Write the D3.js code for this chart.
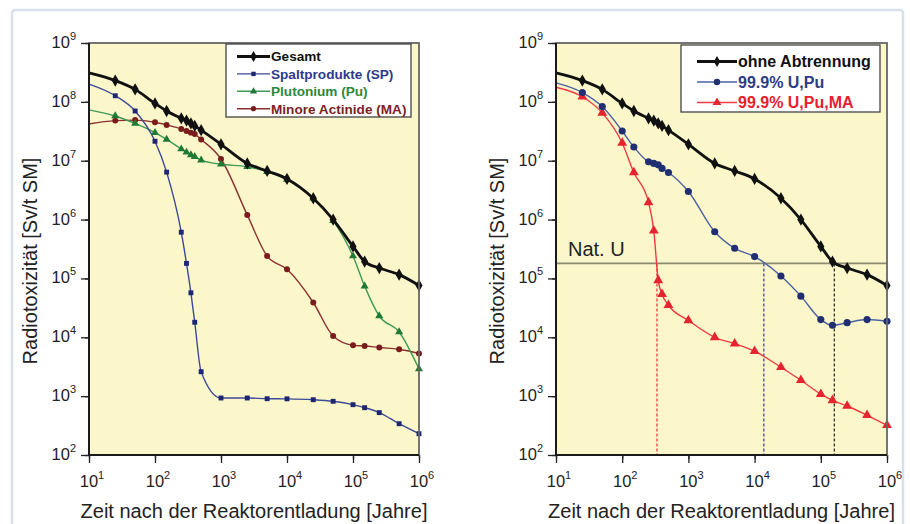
<!DOCTYPE html>
<html lang="de">
<head>
<meta charset="utf-8">
<title>Radiotoxizität</title>
<script src="https://cdn.jsdelivr.net/npm/d3@7"></script>
<style>
  body { margin: 0; background: #fff; }
  svg { display: block; font-family: "Liberation Sans", Arial, sans-serif; }
  .legend text { font-weight: bold; }
</style>
</head>
<body>
<svg id="chart" width="910" height="524"></svg>
<script>
// Zeitpunkte [Jahre]
var years = [10, 25, 50, 100, 150, 250, 300, 350, 400, 500, 1000, 2500, 5000,
             1e4, 2.5e4, 5e4, 1e5, 1.5e5, 2.5e5, 5e5, 1e6];

// linke Grafik
var gesamt = [3.1e8, 2.3e8, 1.63e8, 9.4e7, 7.0e7, 5.25e7, 4.8e7, 4.3e7, 3.9e7, 3.3e7, 1.9e7, 9.0e6, 6.7e6,
              4.9e6, 2.3e6, 1.0e6, 3.5e5, 1.93e5, 1.5e5, 1.16e5, 7.6e4];
var spaltprodukte = [2.0e8, 1.27e8, 7.0e7, 2.14e7, 6.4e6, 6.1e5, 1.8e5, 5.7e4, 1.8e4, 2.6e3, 930, 930, 905,
                     900, 870, 817, 716, 637, 525, 340, 230];
var plutonium = [7.3e7, 5.75e7, 4.3e7, 3.0e7, 2.3e7, 1.58e7, 1.39e7, 1.25e7, 1.17e7, 1.02e7, 8.7e6, 7.9e6, 6.5e6,
                 4.8e6, 2.3e6, 9.6e5, 2.4e5, 7.4e4, 2.3e4, 1.23e4, 2.9e3];
var minoreActinide = [4.2e7, 4.8e7, 4.9e7, 4.5e7, 4.05e7, 3.46e7, 3.2e7, 3.0e7, 2.84e7, 2.3e7, 1.07e7, 1.2e6, 2.4e5,
                      1.43e5, 3.9e4, 1.05e4, 7.3e3, 7.1e3, 6.7e3, 6.25e3, 5.3e3];

// rechte Grafik
var ohneAbtrennung = gesamt;
var abtrennungUPu = [2.1e8, 1.44e8, 8.3e7, 3.2e7, 1.71e7, 9.6e6, 9.0e6, 8.5e6, 7.4e6, 6.3e6, 3.0e6, 6.2e5, 3.25e5,
                     2.35e5, 1.1e5, 5.0e4, 2.0e4, 1.6e4, 1.77e4, 2.0e4, 1.87e4];
var abtrennungUPuMA = [1.77e8, 1.22e8, 6.5e7, 2.0e7, 6.3e6, 1.96e6, 6.5e5, 9.3e4, 5.4e4, 3.5e4, 1.94e4, 1.0e4, 7.8e3,
                       5.8e3, 3.1e3, 1.86e3, 1.08e3, 850, 680, 473, 320];

// Natururan-Referenz und Schnittpunkte
var natU = 1.8e5;
var crossYears = [335, 1.38e4, 1.6e5];
var crossColors = ["#e8303a", "#2f3f80", "#222"];

var xTicks = [1e1, 1e2, 1e3, 1e4, 1e5, 1e6];
var yTicks = [1e2, 1e3, 1e4, 1e5, 1e6, 1e7, 1e8, 1e9];

var leftSeries = [
  {name: "Gesamt", values: gesamt, line: "#111", mark: "#111", text: "#111", width: 2.8, shape: d3.symbolDiamond, size: 44},
  {name: "Spaltprodukte (SP)", values: spaltprodukte, line: "#3b4a98", mark: "#1c2770", text: "#2d3a8c", width: 1.4, shape: d3.symbolSquare, size: 24},
  {name: "Plutonium (Pu)", values: plutonium, line: "#3f9a55", mark: "#1f7a35", text: "#2a8a3e", width: 1.4, shape: d3.symbolTriangle, size: 28},
  {name: "Minore Actinide (MA)", values: minoreActinide, line: "#8a3030", mark: "#7a1c1c", text: "#7c1f24", width: 1.4, shape: d3.symbolCircle, size: 28}
];
var rightSeries = [
  {name: "ohne Abtrennung", values: ohneAbtrennung, line: "#111", mark: "#111", text: "#111", width: 2.8, shape: d3.symbolDiamond, size: 44},
  {name: "99.9% U,Pu", values: abtrennungUPu, line: "#4a62a0", mark: "#1f2f72", text: "#2b3d86", width: 1.4, shape: d3.symbolCircle, size: 40},
  {name: "99.9% U,Pu,MA", values: abtrennungUPuMA, line: "#ee3a44", mark: "#e52430", text: "#e8202c", width: 1.4, shape: d3.symbolTriangle, size: 42}
];

var svg = d3.select("#chart");

// heller Rahmen um beide Grafiken
svg.append("rect")
  .attr("x", 12).attr("y", 10).attr("width", 891).attr("height", 530)
  .attr("rx", 3)
  .attr("fill", "#fff").attr("stroke", "#d6e1eb").attr("stroke-width", 2.5);

function power(exp) {
  return function(sel) {
    sel.append("tspan").text("10");
    sel.append("tspan").attr("dy", -8).attr("font-size", 11).text(exp);
  };
}

function drawPanel(x0, x1, series, opts) {
  var x = d3.scaleLog().domain([10, 1e6]).range([x0, x1]);
  var y = d3.scaleLog().domain([1e2, 1e9]).range([455, 43]);
  var g = svg.append("g");

  g.append("rect")
    .attr("x", x0).attr("y", 43).attr("width", x1 - x0).attr("height", 412)
    .attr("fill", "#fcf6cb");

  // Achsen mit kleinen Ticks
  var xAxis = d3.axisBottom(x).ticks(5).tickSize(4).tickFormat("");
  var yAxis = d3.axisLeft(y).ticks(7).tickSize(4).tickFormat("");
  g.append("g").attr("transform", "translate(0,455)").call(xAxis);
  g.append("g").attr("transform", "translate(" + x0 + ",0)").call(yAxis);
  g.append("g").attr("transform", "translate(0,455)")
    .call(d3.axisBottom(x).tickValues(xTicks).tickSize(8).tickFormat(""));
  g.append("g").attr("transform", "translate(" + x0 + ",0)")
    .call(d3.axisLeft(y).tickValues(yTicks).tickSize(8).tickFormat(""));
  g.selectAll(".domain").remove();
  g.selectAll(".tick line").attr("stroke", "#222").attr("stroke-width", 1.3);

  g.selectAll(".xlab").data(xTicks).enter().append("text")
    .attr("x", function(d) { return x(d) + 3; })
    .attr("y", 487)
    .attr("text-anchor", "middle").attr("font-size", 16.5).attr("fill", "#222")
    .each(function(d) { d3.select(this).call(power(Math.round(Math.log10(d)))); });

  g.selectAll(".ylab").data(yTicks).enter().append("text")
    .attr("x", x0 - 13)
    .attr("y", function(d) { return y(d) + 5; })
    .attr("text-anchor", "end").attr("font-size", 16.5).attr("fill", "#222")
    .each(function(d) { d3.select(this).call(power(Math.round(Math.log10(d)))); });

  var plot = g.append("g");

  if (opts.natU) {
    plot.append("line")
      .attr("x1", x0).attr("x2", x1)
      .attr("y1", y(natU)).attr("y2", y(natU))
      .attr("stroke", "#8c8a70").attr("stroke-width", 1.6);
    plot.append("text")
      .attr("x", x0 + 12).attr("y", y(natU) - 7)
      .attr("font-size", 20).attr("fill", "#222").text("Nat. U");
    plot.selectAll(".cross").data(crossYears).enter().append("line")
      .attr("x1", function(d) { return x(d); }).attr("x2", function(d) { return x(d); })
      .attr("y1", y(natU)).attr("y2", 455)
      .attr("stroke", function(d, i) { return crossColors[i]; })
      .attr("stroke-width", 1.2).attr("stroke-dasharray", "3,2");
  }

  var line = d3.line()
    .x(function(d, i) { return x(years[i]); })
    .y(function(d) { return y(d); })
    .curve(d3.curveMonotoneX);

  // dünne Linien zuerst, Gesamt oben
  series.slice().reverse().forEach(function(s) {
    plot.append("path")
      .attr("d", line(s.values))
      .attr("fill", "none").attr("stroke", s.line).attr("stroke-width", s.width);
    plot.selectAll(null).data(s.values.slice(1)).enter().append("path")
      .attr("transform", function(d, i) { return "translate(" + x(years[i + 1]) + "," + y(d) + ")"; })
      .attr("d", d3.symbol().type(s.shape).size(s.size))
      .attr("fill", s.mark);
  });

  // Rahmen
  g.append("rect")
    .attr("x", x0).attr("y", 43).attr("width", x1 - x0).attr("height", 412)
    .attr("fill", "none").attr("stroke", "#666").attr("stroke-width", 1.8);
  g.append("path")
    .attr("d", "M" + x0 + ",43V455H" + x1)
    .attr("fill", "none").attr("stroke", "#1a1a1a").attr("stroke-width", 2);

  // Achsentitel
  g.append("text")
    .attr("transform", "translate(" + (x0 - 52) + ",261) rotate(-90)")
    .attr("text-anchor", "middle").attr("font-size", 20).attr("fill", "#222")
    .text("Radiotoxizität [Sv/t SM]");
  g.append("text")
    .attr("x", (x0 + x1) / 2).attr("y", 518)
    .attr("text-anchor", "middle").attr("font-size", 20).attr("fill", "#222")
    .text("Zeit nach der Reaktorentladung [Jahre]");

  // Legende
  var lg = g.append("g").attr("class", "legend");
  lg.append("rect")
    .attr("x", opts.x).attr("y", opts.y).attr("width", opts.w).attr("height", opts.h)
    .attr("fill", "#fff").attr("stroke", "#444").attr("stroke-width", 1.3);
  series.forEach(function(s, i) {
    var cy = opts.y + opts.top + i * opts.step;
    lg.append("line")
      .attr("x1", opts.x + opts.pad).attr("x2", opts.x + opts.pad + opts.len)
      .attr("y1", cy).attr("y2", cy)
      .attr("stroke", s.line).attr("stroke-width", s.width);
    lg.append("path")
      .attr("transform", "translate(" + (opts.x + opts.pad + opts.len / 2) + "," + cy + ")")
      .attr("d", d3.symbol().type(s.shape).size(s.size * 0.8))
      .attr("fill", s.mark);
    lg.append("text")
      .attr("x", opts.x + opts.pad + opts.len + 1).attr("y", cy + opts.fs * 0.36)
      .attr("font-size", opts.fs).attr("fill", s.text)
      .text(s.name);
  });
}

drawPanel(89, 419, leftSeries,
  {x: 226, y: 44, w: 185, h: 73, top: 12.5, step: 17.4, pad: 11, len: 33, fs: 13.6, natU: false});
drawPanel(556, 887, rightSeries,
  {x: 681, y: 45, w: 199, h: 67, top: 16.5, step: 20.5, pad: 16, len: 40, fs: 16, natU: true});
</script>
</body>
</html>
